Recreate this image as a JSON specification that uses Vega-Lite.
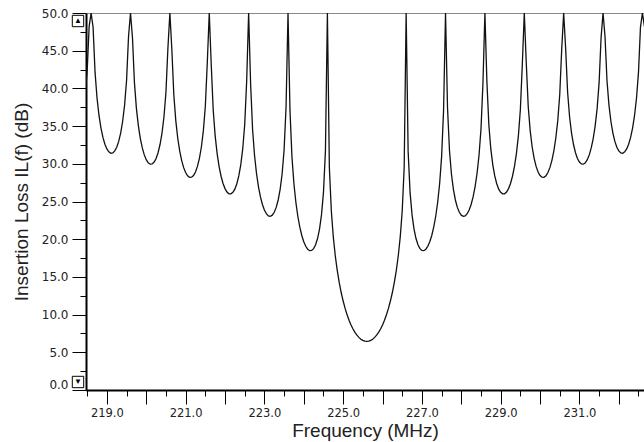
{
  "$schema": "https://vega.github.io/schema/vega-lite/v6.json",
  "width": 558,
  "height": 377,
  "autosize": {"type": "none"},
  "padding": {"left": 86, "top": 13, "right": 0, "bottom": 52},
  "background": "white",
  "config": {
    "view": {"stroke": "#8a8a8a", "strokeWidth": 1},
    "font": "Liberation Sans",
    "axis": {"labelFont": "DejaVu Sans", "titleFont": "Liberation Sans", "labelColor": "#222", "titleColor": "#222", "domainColor": "#000", "tickColor": "#000", "grid": false}
  },
  "datasets": {
    "s": [
      {"f":218.45,"il":39.09},{"f":218.50,"il":42.37},{"f":218.55,"il":48.22},{"f":218.60,"il":50},
      {"f":218.65,"il":48.09},{"f":218.70,"il":42.12},{"f":218.75,"il":38.72},{"f":218.80,"il":36.41},{"f":218.85,"il":34.74},{"f":218.90,"il":33.50},{"f":218.95,"il":32.60},{"f":219.00,"il":31.97},{"f":219.05,"il":31.58},{"f":219.10,"il":31.40},{"f":219.15,"il":31.44},{"f":219.20,"il":31.71},{"f":219.25,"il":32.20},{"f":219.30,"il":32.97},{"f":219.35,"il":34.07},{"f":219.40,"il":35.61},{"f":219.45,"il":37.78},{"f":219.50,"il":41.05},{"f":219.55,"il":46.89},{"f":219.60,"il":50},
      {"f":219.65,"il":46.74},{"f":219.70,"il":40.76},{"f":219.75,"il":37.35},{"f":219.80,"il":35.03},{"f":219.85,"il":33.35},{"f":219.90,"il":32.10},{"f":219.95,"il":31.18},{"f":220.00,"il":30.55},{"f":220.05,"il":30.14},{"f":220.10,"il":29.95},{"f":220.15,"il":29.98},{"f":220.20,"il":30.23},{"f":220.25,"il":30.71},{"f":220.30,"il":31.47},{"f":220.35,"il":32.56},{"f":220.40,"il":34.08},{"f":220.45,"il":36.24},{"f":220.50,"il":39.49},{"f":220.55,"il":45.32},{"f":220.60,"il":50},
      {"f":220.65,"il":45.15},{"f":220.70,"il":39.15},{"f":220.75,"il":35.72},{"f":220.80,"il":33.39},{"f":220.85,"il":31.69},{"f":220.90,"il":30.43},{"f":220.95,"il":29.49},{"f":221.00,"il":28.84},{"f":221.05,"il":28.41},{"f":221.10,"il":28.21},{"f":221.15,"il":28.22},{"f":221.20,"il":28.45},{"f":221.25,"il":28.91},{"f":221.30,"il":29.65},{"f":221.35,"il":30.72},{"f":221.40,"il":32.23},{"f":221.45,"il":34.36},{"f":221.50,"il":37.60},{"f":221.55,"il":43.40},{"f":221.60,"il":50},
      {"f":221.65,"il":43.19},{"f":221.70,"il":37.16},{"f":221.75,"il":33.71},{"f":221.80,"il":31.36},{"f":221.85,"il":29.63},{"f":221.90,"il":28.35},{"f":221.95,"il":27.39},{"f":222.00,"il":26.71},{"f":222.05,"il":26.26},{"f":222.10,"il":26.02},{"f":222.15,"il":26.01},{"f":222.20,"il":26.21},{"f":222.25,"il":26.64},{"f":222.30,"il":27.35},{"f":222.35,"il":28.39},{"f":222.40,"il":29.87},{"f":222.45,"il":31.97},{"f":222.50,"il":35.17},{"f":222.55,"il":40.94},{"f":222.60,"il":50},
      {"f":222.65,"il":40.65},{"f":222.70,"il":34.59},{"f":222.75,"il":31.10},{"f":222.80,"il":28.71},{"f":222.85,"il":26.94},{"f":222.90,"il":25.61},{"f":222.95,"il":24.61},{"f":223.00,"il":23.88},{"f":223.05,"il":23.38},{"f":223.10,"il":23.10},{"f":223.15,"il":23.04},{"f":223.20,"il":23.19},{"f":223.25,"il":23.57},{"f":223.30,"il":24.22},{"f":223.35,"il":25.20},{"f":223.40,"il":26.61},{"f":223.45,"il":28.65},{"f":223.50,"il":31.79},{"f":223.55,"il":37.49},{"f":223.60,"il":50},
      {"f":223.65,"il":37.05},{"f":223.70,"il":30.92},{"f":223.75,"il":27.35},{"f":223.80,"il":24.87},{"f":223.85,"il":23.01},{"f":223.90,"il":21.59},{"f":223.95,"il":20.49},{"f":224.00,"il":19.67},{"f":224.05,"il":19.06},{"f":224.10,"il":18.67},{"f":224.15,"il":18.48},{"f":224.20,"il":18.51},{"f":224.25,"il":18.75},{"f":224.30,"il":19.26},{"f":224.35,"il":20.09},{"f":224.40,"il":21.35},{"f":224.45,"il":23.22},{"f":224.50,"il":26.17},{"f":224.55,"il":31.68},{"f":224.60,"il":50},
      {"f":224.65,"il":29.50},{"f":224.70,"il":23.76},{"f":224.75,"il":20.30},{"f":224.80,"il":17.81},{"f":224.85,"il":15.86},{"f":224.90,"il":14.27},{"f":224.95,"il":12.93},{"f":225.00,"il":11.80},{"f":225.05,"il":10.82},{"f":225.10,"il":9.98},{"f":225.15,"il":9.26},{"f":225.20,"il":8.63},{"f":225.25,"il":8.09},{"f":225.30,"il":7.64},{"f":225.35,"il":7.27},{"f":225.40,"il":6.98},{"f":225.45,"il":6.74},{"f":225.50,"il":6.58},{"f":225.55,"il":6.48},{"f":225.60,"il":6.45},
      {"f":225.65,"il":6.48},{"f":225.70,"il":6.58},{"f":225.75,"il":6.74},{"f":225.80,"il":6.98},{"f":225.85,"il":7.27},{"f":225.90,"il":7.64},{"f":225.95,"il":8.09},{"f":226.00,"il":8.63},{"f":226.05,"il":9.26},{"f":226.10,"il":9.98},{"f":226.15,"il":10.82},{"f":226.20,"il":11.80},{"f":226.25,"il":12.93},{"f":226.30,"il":14.27},{"f":226.35,"il":15.86},{"f":226.40,"il":17.81},{"f":226.45,"il":20.30},{"f":226.50,"il":23.76},{"f":226.55,"il":29.50},{"f":226.60,"il":50},
      {"f":226.65,"il":31.68},{"f":226.70,"il":26.17},{"f":226.75,"il":23.22},{"f":226.80,"il":21.35},{"f":226.85,"il":20.09},{"f":226.90,"il":19.26},{"f":226.95,"il":18.75},{"f":227.00,"il":18.51},{"f":227.05,"il":18.48},{"f":227.10,"il":18.67},{"f":227.15,"il":19.06},{"f":227.20,"il":19.67},{"f":227.25,"il":20.49},{"f":227.30,"il":21.59},{"f":227.35,"il":23.01},{"f":227.40,"il":24.87},{"f":227.45,"il":27.35},{"f":227.50,"il":30.92},{"f":227.55,"il":37.05},{"f":227.60,"il":50},
      {"f":227.65,"il":37.49},{"f":227.70,"il":31.79},{"f":227.75,"il":28.65},{"f":227.80,"il":26.61},{"f":227.85,"il":25.20},{"f":227.90,"il":24.22},{"f":227.95,"il":23.57},{"f":228.00,"il":23.19},{"f":228.05,"il":23.04},{"f":228.10,"il":23.10},{"f":228.15,"il":23.38},{"f":228.20,"il":23.88},{"f":228.25,"il":24.61},{"f":228.30,"il":25.61},{"f":228.35,"il":26.94},{"f":228.40,"il":28.71},{"f":228.45,"il":31.10},{"f":228.50,"il":34.59},{"f":228.55,"il":40.65},{"f":228.60,"il":50},
      {"f":228.65,"il":40.94},{"f":228.70,"il":35.17},{"f":228.75,"il":31.97},{"f":228.80,"il":29.87},{"f":228.85,"il":28.39},{"f":228.90,"il":27.35},{"f":228.95,"il":26.64},{"f":229.00,"il":26.21},{"f":229.05,"il":26.01},{"f":229.10,"il":26.02},{"f":229.15,"il":26.26},{"f":229.20,"il":26.71},{"f":229.25,"il":27.39},{"f":229.30,"il":28.35},{"f":229.35,"il":29.63},{"f":229.40,"il":31.36},{"f":229.45,"il":33.71},{"f":229.50,"il":37.16},{"f":229.55,"il":43.19},{"f":229.60,"il":50},
      {"f":229.65,"il":43.40},{"f":229.70,"il":37.60},{"f":229.75,"il":34.36},{"f":229.80,"il":32.23},{"f":229.85,"il":30.72},{"f":229.90,"il":29.65},{"f":229.95,"il":28.91},{"f":230.00,"il":28.45},{"f":230.05,"il":28.22},{"f":230.10,"il":28.21},{"f":230.15,"il":28.41},{"f":230.20,"il":28.84},{"f":230.25,"il":29.49},{"f":230.30,"il":30.43},{"f":230.35,"il":31.69},{"f":230.40,"il":33.39},{"f":230.45,"il":35.72},{"f":230.50,"il":39.15},{"f":230.55,"il":45.15},{"f":230.60,"il":50},
      {"f":230.65,"il":45.32},{"f":230.70,"il":39.49},{"f":230.75,"il":36.24},{"f":230.80,"il":34.08},{"f":230.85,"il":32.56},{"f":230.90,"il":31.47},{"f":230.95,"il":30.71},{"f":231.00,"il":30.23},{"f":231.05,"il":29.98},{"f":231.10,"il":29.95},{"f":231.15,"il":30.14},{"f":231.20,"il":30.55},{"f":231.25,"il":31.18},{"f":231.30,"il":32.10},{"f":231.35,"il":33.35},{"f":231.40,"il":35.03},{"f":231.45,"il":37.35},{"f":231.50,"il":40.76},{"f":231.55,"il":46.74},{"f":231.60,"il":50},
      {"f":231.65,"il":46.89},{"f":231.70,"il":41.05},{"f":231.75,"il":37.78},{"f":231.80,"il":35.61},{"f":231.85,"il":34.07},{"f":231.90,"il":32.97},{"f":231.95,"il":32.20},{"f":232.00,"il":31.71},{"f":232.05,"il":31.44},{"f":232.10,"il":31.40},{"f":232.15,"il":31.58},{"f":232.20,"il":31.97},{"f":232.25,"il":32.60},{"f":232.30,"il":33.50},{"f":232.35,"il":34.74},{"f":232.40,"il":36.41},{"f":232.45,"il":38.72},{"f":232.50,"il":42.12},{"f":232.55,"il":48.09},{"f":232.60,"il":50},
      {"f":232.65,"il":48.22}
    ],
    "up": [{"f": 218.47, "il": 50, "b": "▲"}],
    "down": [{"f": 218.47, "il": 0, "b": "▼"}]
  },
  "encoding": {
    "x": {
      "field": "f", "type": "quantitative",
      "scale": {"domain": [218.47, 232.64], "nice": false, "zero": false},
      "axis": {
        "title": "Frequency (MHz)",
        "titleFontSize": 19, "titleFontWeight": "normal", "titlePadding": 3,
        "values": [218.5,219,219.5,220,220.5,221,221.5,222,222.5,223,223.5,224,224.5,225,225.5,226,226.5,227,227.5,228,228.5,229,229.5,230,230.5,231,231.5,232,232.5],
        "labelExpr": "datum.value % 2 == 1 ? format(datum.value, '.1f') : ''",
        "labelFontSize": 11.5, "labelPadding": 3,
        "tickSize": {"condition": {"test": "datum.value % 1 == 0", "value": 14}, "value": 6},
        "tickWidth": 1, "domainWidth": 2, "labelFlush": false, "labelOverlap": false
      }
    },
    "y": {
      "field": "il", "type": "quantitative",
      "scale": {"domain": [0, 50], "nice": false, "zero": false},
      "axis": {
        "title": "Insertion Loss IL(f)  (dB)",
        "titleFontSize": 19, "titleFontWeight": "normal", "titlePadding": 10,
        "values": [0,2.5,5,7.5,10,12.5,15,17.5,20,22.5,25,27.5,30,32.5,35,37.5,40,42.5,45,47.5,50],
        "labelExpr": "datum.value % 5 == 0 ? format(datum.value, '.1f') : ''",
        "labelFontSize": 12, "labelPadding": 4,
        "labelOffset": {"condition": {"test": "datum.value == 0", "value": -6}, "value": 0},
        "tickSize": {"condition": {"test": "datum.value % 5 == 0", "value": 14}, "value": 6},
        "tickWidth": 1, "domainWidth": 2, "labelFlush": false, "labelOverlap": false
      }
    }
  },
  "layer": [
    {
      "data": {"name": "s"},
      "mark": {"type": "line", "color": "#111", "strokeWidth": 1.3, "clip": true}
    },
    {
      "data": {"name": "up"},
      "mark": {"type": "point", "shape": "square", "size": 130, "filled": false, "color": "#000", "strokeWidth": 1, "opacity": 1, "xOffset": -8, "yOffset": 8}
    },
    {
      "data": {"name": "up"},
      "mark": {"type": "text", "fontSize": 8, "color": "#000", "dx": -8, "dy": 8, "align": "center", "baseline": "middle"},
      "encoding": {"text": {"field": "b"}}
    },
    {
      "data": {"name": "down"},
      "mark": {"type": "point", "shape": "square", "size": 130, "filled": false, "color": "#000", "strokeWidth": 1, "opacity": 1, "xOffset": -8, "yOffset": -8}
    },
    {
      "data": {"name": "down"},
      "mark": {"type": "text", "fontSize": 8, "color": "#000", "dx": -8, "dy": -8, "align": "center", "baseline": "middle"},
      "encoding": {"text": {"field": "b"}}
    }
  ]
}
